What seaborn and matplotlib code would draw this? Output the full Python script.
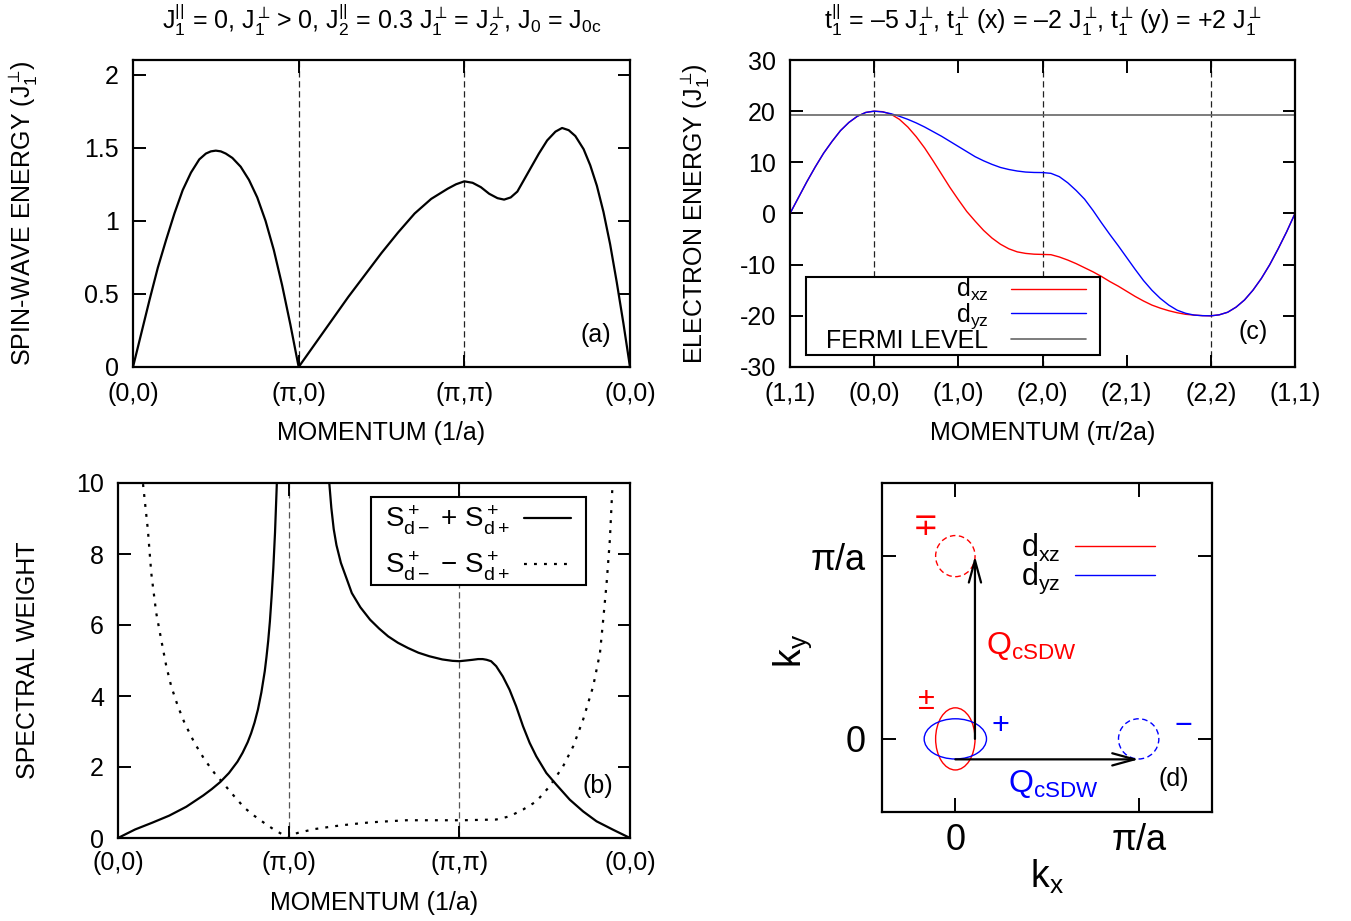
import numpy as np
import pandas as pd
import matplotlib
matplotlib.use("Agg")
import matplotlib.pyplot as plt
import seaborn as sns
from matplotlib.patches import Ellipse, Rectangle
from matplotlib.lines import Line2D

# ---------------- data ----------------
# (a) spin-wave energy along (0,0)->(pi,0)->(pi,pi)->(0,0)
a_k = [0, 0.05, 0.1, 0.15, 0.2, 0.25, 0.3, 0.35, 0.4, 0.44, 0.47, 0.5, 0.53, 0.56, 0.6, 0.65, 0.7, 0.75, 0.8, 0.85,
       0.9, 0.95, 1.0,
       1.05, 1.1, 1.2, 1.3, 1.4, 1.5, 1.6, 1.7, 1.8, 1.9, 1.95, 2.0,
       2.05, 2.1, 2.15, 2.2, 2.24, 2.28, 2.32, 2.36, 2.4, 2.45, 2.5, 2.55, 2.59, 2.63, 2.67, 2.72, 2.76, 2.8, 2.84,
       2.88, 2.92, 2.96, 3.0]
a_E = [0, 0.23, 0.46, 0.68, 0.87, 1.05, 1.21, 1.33, 1.42, 1.46, 1.475, 1.48, 1.475, 1.46, 1.43, 1.37, 1.28, 1.16,
       1.0, 0.8, 0.56, 0.29, 0,
       0.08, 0.16, 0.32, 0.48, 0.63, 0.78, 0.92, 1.05, 1.15, 1.22, 1.25, 1.27,
       1.26, 1.23, 1.185, 1.155, 1.145, 1.16, 1.2, 1.28, 1.36, 1.46, 1.55, 1.61, 1.635, 1.62, 1.58, 1.49, 1.38, 1.24,
       1.06, 0.84, 0.58, 0.3, 0]
a_ticklabels = ["(0,0)", "(\u03c0,0)", "(\u03c0,\u03c0)", "(0,0)"]
a_yticks = [0, 0.5, 1, 1.5, 2]
a_ytlabels = ["0", "0.5", "1", "1.5", "2"]
a_dashed = [1, 2]

# (b) spectral weight, S+d- + S+d+  (two branches around the (pi,0) divergence)
b_k_sum1 = [0, 0.1, 0.2, 0.3, 0.4, 0.5, 0.55, 0.6, 0.65, 0.7, 0.73, 0.76, 0.78, 0.8, 0.82, 0.84, 0.86, 0.87, 0.88,
            0.89, 0.9, 0.91, 0.92, 0.93, 0.94]
b_sum1 = [0, 0.24, 0.43, 0.63, 0.88, 1.2, 1.38, 1.58, 1.83, 2.15, 2.4, 2.7, 2.95, 3.25, 3.62, 4.1, 4.7, 5.1, 5.55,
          6.1, 6.8, 7.6, 8.6, 9.9, 11.5]
b_k_sum2 = [1.225, 1.238, 1.25, 1.264, 1.28, 1.306, 1.34, 1.37, 1.42, 1.477, 1.53, 1.583, 1.64, 1.7, 1.76, 1.824, 1.9,
            1.96, 2.0, 2.04, 2.078, 2.11, 2.137, 2.16, 2.186, 2.216, 2.255, 2.294, 2.333, 2.373, 2.412, 2.451, 2.51,
            2.569, 2.647, 2.725, 2.804, 2.902, 3.0]
b_sum2 = [11.5, 10.0, 9.3, 8.7, 8.25, 7.75, 7.3, 6.9, 6.5, 6.15, 5.9, 5.68, 5.5, 5.35, 5.22, 5.12, 5.03, 4.99, 4.98,
          5.0, 5.02, 5.04, 5.04, 5.02, 4.98, 4.84, 4.55, 4.18, 3.71, 3.15, 2.68, 2.30, 1.83, 1.50, 1.08, 0.75, 0.47,
          0.23, 0]
# S+d- - S+d+
b_k_diff = [0.12, 0.146, 0.175, 0.195, 0.224, 0.253, 0.283, 0.312, 0.351, 0.39, 0.448, 0.507, 0.565, 0.624, 0.682,
            0.741, 0.80, 0.858, 0.916, 0.975, 1.0, 1.05, 1.15, 1.264, 1.37, 1.477, 1.58, 1.69, 1.824, 2.02, 2.216,
            2.294, 2.373, 2.451, 2.53, 2.608, 2.667, 2.725, 2.784, 2.824, 2.843, 2.863, 2.882, 2.898, 2.91]
b_diff = [12.5, 10.0, 8.68, 7.46, 6.34, 5.59, 4.84, 4.27, 3.71, 3.24, 2.68, 2.21, 1.83, 1.50, 1.17, 0.85, 0.62, 0.42,
          0.23, 0.07, 0, 0.14, 0.25, 0.33, 0.39, 0.44, 0.47, 0.50, 0.50, 0.50, 0.52, 0.61, 0.80, 1.03, 1.46, 2.02,
          2.58, 3.33, 4.27, 5.21, 6.15, 7.18, 8.40, 10.0, 11.5]
b_yticks = [0, 2, 4, 6, 8, 10]

# (c) electron bands along (1,1)->(0,0)->(1,0)->(2,0)->(2,1)->(2,2)->(1,1)
c_k = [round(0.1 * i, 1) for i in range(61)]
c_dxz = [0, 3.1, 6.2, 9.1, 11.8, 14.1, 16.2, 17.8, 19.0, 19.75, 20,
         19.9, 19.4, 18.4, 16.9, 15.0, 12.8, 10.3, 7.7, 5.1, 2.7, 0.4, -1.5, -3.3, -4.8, -6.0, -6.9, -7.5, -7.8, -7.95, -8.0,
         -8.05, -8.5, -9.1, -9.8, -10.6, -11.4, -12.3, -13.3, -14.2, -15.2, -16.2, -17.1, -17.9, -18.5, -19.0, -19.4,
         -19.7, -19.85, -19.96, -20,
         -19.8, -19.3, -18.3, -16.9, -15.0, -12.7, -10.0, -6.9, -3.6, 0]
c_dyz = [0, 3.1, 6.2, 9.1, 11.8, 14.1, 16.2, 17.8, 19.0, 19.75, 20,
         19.85, 19.5, 19.0, 18.4, 17.7, 16.9, 16.0, 15.1, 14.1, 13.1, 12.1, 11.1, 10.3, 9.6, 9.0, 8.6, 8.3, 8.1, 8.02, 8.0,
         7.85, 7.2, 6.0, 4.5, 2.8, 0.6, -1.8, -4.1, -6.3, -8.6, -10.9, -13.1, -15.0, -16.6, -17.9, -18.9, -19.5, -19.85,
         -19.97, -20,
         -19.8, -19.3, -18.3, -16.9, -15.0, -12.7, -10.0, -6.9, -3.6, 0]
fermi_level = 19.2
c_ticklabels = ["(1,1)", "(0,0)", "(1,0)", "(2,0)", "(2,1)", "(2,2)", "(1,1)"]
c_yticks = [-30, -20, -10, 0, 10, 20, 30]
c_dashed = [1, 3, 5]

# (d) Fermi pockets (units of pi/a)
fs_cx = [0, 0, 0, 1]
fs_cy = [0, 0, 1, 0]
fs_w = [0.215, 0.34, 0.215, 0.22]
fs_h = [0.34, 0.22, 0.225, 0.22]
fs_col = ["red", "blue", "red", "blue"]
fs_dashed = [False, False, True, True]
q_start = [(0.107, 0.0), (0.0, -0.112)]
q_end = [(0.107, 1.0), (1.0, -0.112)]
q_col = ["red", "blue"]
q_lab_pos = [(0.165, 0.51), (0.29, -0.245)]
sign_txt = ["\u2213", "\u00b1", "+", "\u2212"]
sign_pos = [(-0.16, 1.16), (-0.16, 0.21), (0.245, 0.07), (1.245, 0.07)]
sign_col = ["red", "red", "blue", "blue"]
d_ticks = [0, 1]
d_ticklabels = ["0", "\u03c0/a"]

# ---------------- style ----------------
sns.set_style("ticks")
plt.rcParams['font.family'] = ['Liberation Sans', 'DejaVu Sans']
plt.rcParams['mathtext.fontset'] = 'custom'
plt.rcParams['mathtext.rm'] = 'Liberation Sans'
plt.rcParams['mathtext.it'] = 'Liberation Sans:italic'
plt.rcParams['mathtext.bf'] = 'Liberation Sans:bold'
plt.rcParams['mathtext.sf'] = 'Liberation Sans'
plt.rcParams['mathtext.fallback'] = 'cm'
plt.rcParams['axes.unicode_minus'] = False
plt.rcParams['text.color'] = 'black'
plt.rcParams['axes.labelcolor'] = 'black'
plt.rcParams['xtick.color'] = 'black'
plt.rcParams['ytick.color'] = 'black'

FS = 18
fig = plt.figure(figsize=(13.51, 9.21), dpi=100)
W, H = 1351.0, 921.0


def px_axes(l, t, r, b):
    return fig.add_axes([l / W, 1 - b / H, (r - l) / W, (b - t) / H])


def style(ax, labelsize=FS, pad=9, length=9):
    for s in ax.spines.values():
        s.set_visible(True)
        s.set_linewidth(1.6)
        s.set_color('black')
    ax.tick_params(direction='in', length=length, width=1.4, top=True, right=True,
                   labelsize=labelsize, pad=pad, colors='black')


def frame(ax, x0, y0, x1, y1):
    ax.add_patch(Rectangle((x0, y0), x1 - x0, y1 - y0, transform=ax.transAxes, facecolor='white',
                           edgecolor='black', lw=1.5, zorder=4))


dash = (0, (5, 3))
dots = (0, (1.3, 3.2))
Jp = r"$\mathregular{J_1^{\perp}\!}$"
J2p = r"$\mathregular{J_2^{\perp}\!}$"
tp = r"$\mathregular{t_1^{\perp}\!}$"
EN = "\u2013"

# ---------------- (a) ----------------
ax = px_axes(133, 60, 630, 367)
sns.lineplot(x=a_k, y=a_E, ax=ax, color='black', linewidth=1.6, sort=False, estimator=None)
for xv in a_dashed:
    ax.axvline(xv, color='#222222', lw=0.9, ls=dash, zorder=0)
ax.set_xlim(0, 3)
ax.set_ylim(0, 2.1)
ax.set_xticks(range(4))
ax.set_xticklabels(a_ticklabels)
ax.set_yticks(a_yticks)
ax.set_yticklabels(a_ytlabels)
style(ax, pad=11)
ax.tick_params(axis='y', pad=10)
ax.set_xlabel("MOMENTUM (1/a)", fontsize=FS)
ax.set_ylabel("SPIN-WAVE ENERGY (" + Jp + ")", fontsize=FS)
ax.xaxis.set_label_coords(0.5, -0.176)
ax.yaxis.set_label_coords(-0.187, 0.5)
ax.text(0.5, 1.13,
        r"$\mathregular{J_1^{||}}$ = 0, " + Jp + r" > 0, $\mathregular{J_2^{||}}$ = 0.3 " + Jp +
        " = " + J2p + r", $\mathregular{J_0}$ = $\mathregular{J_{0c}}$",
        transform=ax.transAxes, ha='center', va='center', fontsize=18)
ax.text(0.932, 0.104, "(a)", transform=ax.transAxes, ha='center', va='center', fontsize=FS)

# ---------------- (c) ----------------
ax = px_axes(790, 60, 1295, 367)
n = len(c_k)
dfc = pd.DataFrame({"k": c_k + c_k, "E": c_dxz + c_dyz, "orbital": ["dxz"] * n + ["dyz"] * n})
sns.lineplot(data=dfc, x="k", y="E", hue="orbital", palette={"dxz": "#ff0000", "dyz": "#0000ff"},
             ax=ax, linewidth=1.0, sort=False, estimator=None, legend=False)
ax.axhline(fermi_level, color='#666666', lw=1.2)
for xv in c_dashed:
    ax.axvline(xv, color='#222222', lw=0.9, ls=dash, zorder=0)
ax.set_xlim(0, 6)
ax.set_ylim(-30, 30)
ax.set_xticks(range(7))
ax.set_xticklabels(c_ticklabels)
ax.set_yticks(c_yticks)
style(ax, pad=11)
ax.tick_params(axis='y', pad=10)
ax.set_xlabel("MOMENTUM (\u03c0/2a)", fontsize=FS)
ax.set_ylabel("ELECTRON ENERGY (" + Jp + ")", fontsize=FS)
ax.xaxis.set_label_coords(0.5, -0.176)
ax.yaxis.set_label_coords(-0.154, 0.5)
ax.text(0.5, 1.13,
        r"$\mathregular{t_1^{||}}$ = " + EN + "5 " + Jp + ", " + tp + " (x) = " + EN + "2 " + Jp +
        ", " + tp + " (y) = +2 " + Jp,
        transform=ax.transAxes, ha='center', va='center', fontsize=18)
ax.text(0.917, 0.114, "(c)", transform=ax.transAxes, ha='center', va='center', fontsize=FS)
frame(ax, 0.0317, 0.039, 0.614, 0.293)
hc = [Line2D([], [], color='#ff0000', lw=1.0), Line2D([], [], color='#0000ff', lw=1.0),
      Line2D([], [], color='#666666', lw=1.2)]
leg = ax.legend(hc, [r"$\mathregular{d_{xz}}$", r"$\mathregular{d_{yz}}$", "FERMI LEVEL"],
                loc='lower right', bbox_to_anchor=(0.586, 0.045), borderaxespad=0, markerfirst=False,
                fontsize=FS, handlelength=3.0, handletextpad=0.9, labelspacing=-0.08, borderpad=0,
                frameon=False)
leg.set_zorder(5)

# ---------------- (b) ----------------
ax = px_axes(118, 483, 630, 838)
sns.lineplot(x=b_k_sum1, y=b_sum1, ax=ax, color='black', linewidth=1.6, sort=False, estimator=None)
sns.lineplot(x=b_k_sum2, y=b_sum2, ax=ax, color='black', linewidth=1.6, sort=False, estimator=None)
sns.lineplot(x=b_k_diff, y=b_diff, ax=ax, color='black', linewidth=1.6, sort=False, estimator=None,
             linestyle=dots)
for xv in a_dashed:
    ax.axvline(xv, color='#555555', lw=0.9, ls=dash, zorder=0)
ax.set_xlim(0, 3)
ax.set_ylim(0, 10)
ax.set_xticks(range(4))
ax.set_xticklabels(a_ticklabels)
ax.set_yticks(b_yticks)
style(ax, pad=9)
ax.tick_params(axis='y', pad=10)
ax.set_xlabel("MOMENTUM (1/a)", fontsize=FS)
ax.set_ylabel("SPECTRAL WEIGHT", fontsize=FS)
ax.xaxis.set_label_coords(0.5, -0.149)
ax.yaxis.set_label_coords(-0.152, 0.5)
ax.text(0.9375, 0.146, "(b)", transform=ax.transAxes, ha='center', va='center', fontsize=FS)
frame(ax, 0.494, 0.713, 0.914, 0.961)
hb = [Line2D([], [], color='black', lw=1.6), Line2D([], [], color='black', lw=1.6, ls=dots)]
lab_sum = r"$\mathregular{S^+_{d-}}$ + $\mathregular{S^+_{d+}}$"
lab_dif = r"$\mathregular{S^+_{d-}}$ " + "\u2212" + r" $\mathregular{S^+_{d+}}$"
leg = ax.legend(hb, [lab_sum, lab_dif],
                loc='center right', bbox_to_anchor=(0.885, 0.83), borderaxespad=0, markerfirst=False,
                fontsize=20, handlelength=1.7, handletextpad=0.5, labelspacing=0.45, borderpad=0,
                frameon=False)
leg.set_zorder(5)

# ---------------- (d) ----------------
ax = px_axes(882, 483, 1212, 812)
ax.set_xlim(-0.4, 1.4)
ax.set_ylim(-0.4, 1.4)
for cx, cy, w, h, col, dsh in zip(fs_cx, fs_cy, fs_w, fs_h, fs_col, fs_dashed):
    ax.add_patch(Ellipse((cx, cy), w, h, fill=False, edgecolor=col, lw=1.0,
                         ls=(0, (4, 2.5)) if dsh else '-'))
for st, en in zip(q_start, q_end):
    ax.annotate("", xy=en, xytext=st,
                arrowprops=dict(arrowstyle="->,head_length=0.8,head_width=0.22", lw=1.6, color='black',
                                shrinkA=0, shrinkB=0, mutation_scale=20))
for (x, y), col in zip(q_lab_pos, q_col):
    ax.text(x, y, r"$\mathregular{Q_{cSDW}}$", color=col, fontsize=23, ha='left', va='center')
for t, (x, y), col in zip(sign_txt, sign_pos, sign_col):
    ax.text(x, y, t, color=col, fontsize=22, ha='center', va='center')
ax.text(1.19, -0.22, "(d)", fontsize=FS, ha='center', va='center')
ax.set_xticks(d_ticks)
ax.set_xticklabels(d_ticklabels)
ax.set_yticks(d_ticks)
ax.set_yticklabels(d_ticklabels)
style(ax, labelsize=26, pad=8, length=10)
ax.tick_params(axis='y', pad=12)
ax.set_xlabel(r"$\mathregular{k_x}$", fontsize=27)
ax.set_ylabel(r"$\mathregular{k_y}$", fontsize=27)
ax.xaxis.set_label_coords(0.5, -0.138)
ax.yaxis.set_label_coords(-0.205, 0.49)
hd = [Line2D([], [], color='#ff0000', lw=1.0), Line2D([], [], color='#0000ff', lw=1.0)]
ax.legend(hd, [r"$\mathregular{d_{xz}}$", r"$\mathregular{d_{yz}}$"], loc='center right',
          bbox_to_anchor=(0.827, 0.753), borderaxespad=0, borderpad=0, markerfirst=False, frameon=False,
          fontsize=22, handlelength=2.6, handletextpad=0.5, labelspacing=-0.1)

fig.savefig("out.png", dpi=100)
